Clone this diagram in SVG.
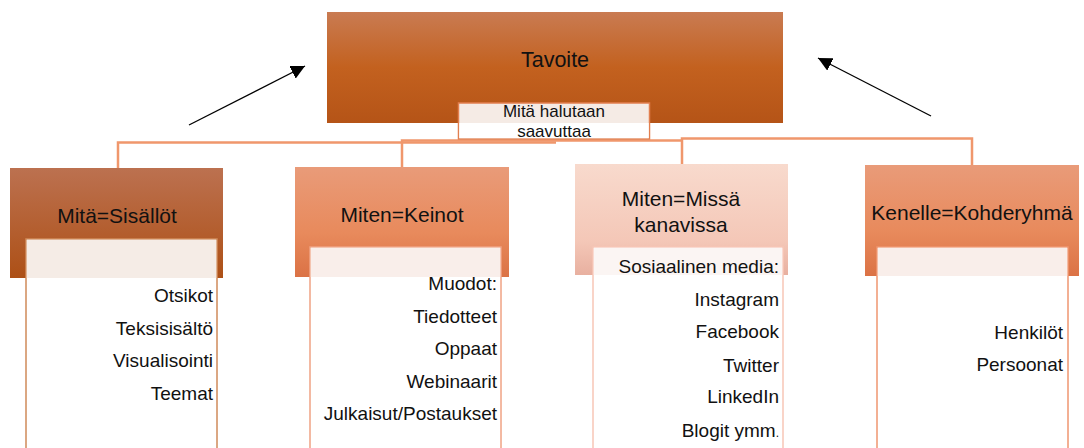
<svg xmlns="http://www.w3.org/2000/svg" width="1084" height="448" viewBox="0 0 1084 448">
<style>
text{font-family:"Liberation Sans",Arial,sans-serif;fill:#111}
.t{font-size:21px;text-anchor:middle}
.i{font-size:19px;text-anchor:end}
.s{font-size:17px;text-anchor:middle}
.conn{fill:none;stroke:#f0976c;stroke-width:2.5}
.arr{stroke:#000;stroke-width:1.3;marker-end:url(#ah)}
</style>
<defs>
<linearGradient id="gDark" x1="0" y1="0" x2="0" y2="1">
<stop offset="0" stop-color="#c97b52"/><stop offset="0.5" stop-color="#c3611f"/><stop offset="1" stop-color="#b55417"/>
</linearGradient>
<linearGradient id="gDark1" x1="0" y1="0" x2="0" y2="1">
<stop offset="0" stop-color="#bc7150"/><stop offset="1" stop-color="#ad5016"/>
</linearGradient>
<linearGradient id="gMid" x1="0" y1="0" x2="0" y2="1">
<stop offset="0" stop-color="#e99b79"/><stop offset="0.6" stop-color="#e88a5c"/><stop offset="1" stop-color="#db7245"/>
</linearGradient>
<linearGradient id="gLight" x1="0" y1="0" x2="0" y2="1">
<stop offset="0" stop-color="#f8dacd"/><stop offset="0.7" stop-color="#f4c7b7"/><stop offset="1" stop-color="#e8b0a0"/>
</linearGradient>
<marker id="ah" viewBox="0 0 10 10" refX="10" refY="5" markerWidth="14" markerHeight="14" markerUnits="userSpaceOnUse" orient="auto">
<path d="M0,0 L10,5 L0,10 Z" fill="#000"/>
</marker>
</defs>

<g id="connectors">
<path class="conn" d="M118,168 V142.5 H556"/>
<path class="conn" d="M402,168 V140.5 H682"/>
<path class="conn" d="M682,165 V138.5 H972 V165"/>
<line class="arr" x1="189" y1="125" x2="305" y2="66"/>
<line class="arr" x1="931" y1="116" x2="818" y2="58"/>
</g>

<g id="tavoite">
<rect x="327" y="12" width="456" height="111" fill="url(#gDark)"/>
<text class="t" x="555" y="67" style="font-size:21.5px">Tavoite</text>
</g>
<g id="tavoite-sub">
<rect x="458.5" y="103" width="191" height="36" fill="#f5ebe5" stroke="#e27f4f" stroke-width="1.5"/>
<rect x="459.3" y="123" width="189.4" height="15.2" fill="#ffffff"/>
<text class="s" x="554" y="117">Mitä halutaan</text>
<text class="s" x="554" y="136.5">saavuttaa</text>
</g>

<g id="sisallot">
<rect x="10" y="168" width="213" height="110" fill="url(#gDark1)"/>
<text class="t" x="117" y="223">Mitä=Sisällöt</text>
<rect x="26" y="239" width="191" height="220" fill="#ffffff" stroke="#cf8a5a" stroke-width="1.5"/>
<rect x="26.8" y="239.8" width="189.4" height="38.2" fill="#f5ece6"/>
<text class="i" x="213" y="302">Otsikot</text>
<text class="i" x="213" y="335">Teksisisältö</text>
<text class="i" x="213" y="367">Visualisointi</text>
<text class="i" x="213" y="400">Teemat</text>
</g>

<g id="keinot">
<rect x="295" y="167" width="214" height="110" fill="url(#gMid)"/>
<text class="t" x="402" y="222">Miten=Keinot</text>
<rect x="310" y="247" width="191" height="220" fill="#ffffff" stroke="#f0a384" stroke-width="1.5"/>
<rect x="310.8" y="247.8" width="189.4" height="29.2" fill="#f9eeea"/>
<text class="i" x="497" y="290">Muodot:</text>
<text class="i" x="497" y="323">Tiedotteet</text>
<text class="i" x="497" y="355">Oppaat</text>
<text class="i" x="497" y="388">Webinaarit</text>
<text class="i" x="497" y="420">Julkaisut/Postaukset</text>
</g>

<g id="kanavat">
<rect x="575" y="164" width="213" height="111" fill="url(#gLight)"/>
<text class="t" x="681" y="206">Miten=Missä</text>
<text class="t" x="681" y="232">kanavissa</text>
<rect x="593" y="247" width="190" height="220" fill="#ffffff" stroke="#f7c6b6" stroke-width="1.5"/>
<rect x="593.8" y="247.8" width="188.4" height="27.2" fill="#fbf5f3"/>
<text class="i" x="779" y="273">Sosiaalinen media:</text>
<text class="i" x="779" y="306">Instagram</text>
<text class="i" x="779" y="338">Facebook</text>
<text class="i" x="779" y="372">Twitter</text>
<text class="i" x="779" y="403">LinkedIn</text>
<text class="i" x="779" y="437">Blogit ymm<tspan style="font-size:12px">.</tspan></text>
</g>

<g id="kohderyhma">
<rect x="865" y="165" width="214" height="111" fill="url(#gMid)"/>
<text class="t" x="972" y="220">Kenelle=Kohderyhmä</text>
<rect x="877" y="247" width="191" height="220" fill="#ffffff" stroke="#ef9670" stroke-width="1.5"/>
<rect x="877.8" y="247.8" width="189.4" height="28.2" fill="#f9eeea"/>
<text class="i" x="1063" y="339">Henkilöt</text>
<text class="i" x="1063" y="371">Persoonat</text>
</g>
</svg>
